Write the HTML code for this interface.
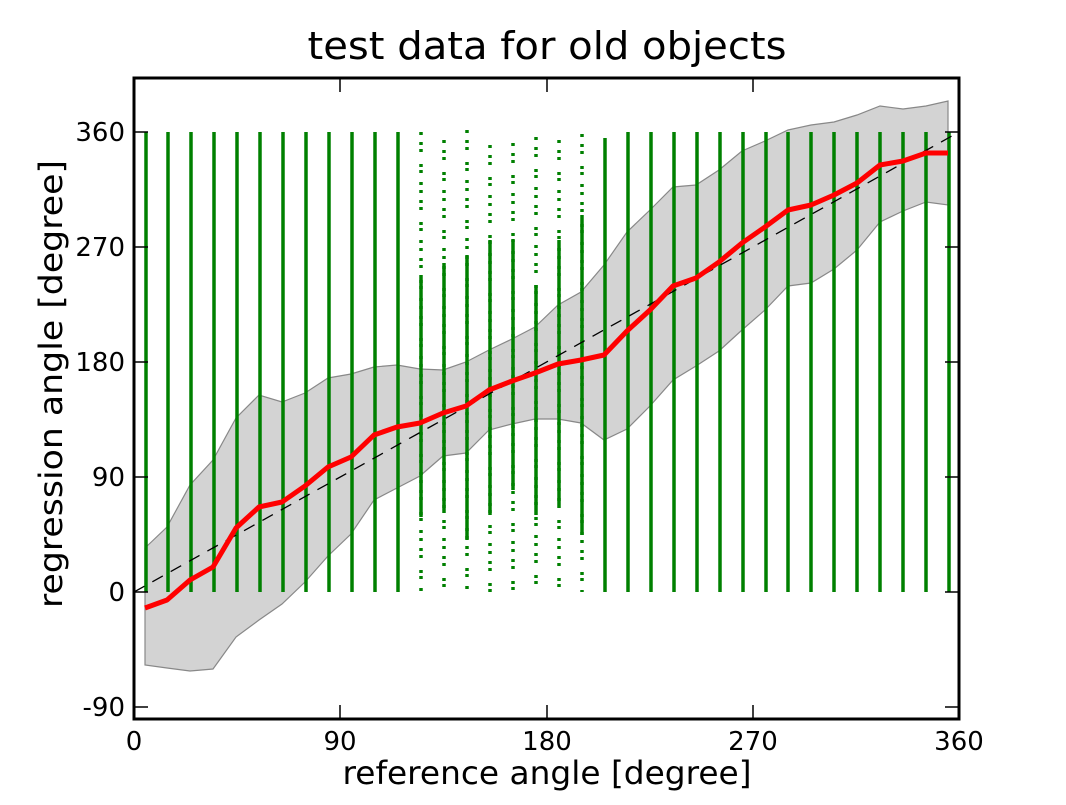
<!DOCTYPE html>
<html><head><meta charset="utf-8"><style>
body{margin:0;background:#fff}
svg text{font-family:"DejaVu Sans","Liberation Sans",sans-serif;fill:#000}
</style></head><body>
<svg width="1066" height="800" viewBox="0 0 1066 800" xmlns="http://www.w3.org/2000/svg">
<rect width="1066" height="800" fill="#fff"/>
<text x="547" y="59" font-size="38" text-anchor="middle" textLength="479" lengthAdjust="spacingAndGlyphs">test data for old objects</text>
<polygon fill="#d3d3d3" stroke="#888" stroke-width="1.2" points="145,548 167,527 190,485 213,460 236,418 259,395 282,402 305,393 328,378 351,374 374,367 397,365 420,369 443,370 466,362 489,350 512,339 535,327 558,305 581,292 604,265 627,232 650,210 673,187 696,185 719,170 742,151 765,141 788,130 811,125 834,122 857,115 880,106 903,109 926,106 948,101 948,205 926,202 903,211 880,222 857,250 834,269 811,283 788,286 765,310 742,330 719,351 696,366 673,380 650,406 627,429 604,440 581,423 558,419 535,419 512,424 489,430 466,453 443,456 420,476 397,488 374,500 351,534 328,556 305,582 282,604 259,620 236,637 213,669 190,671 167,668 145,665"/>
<g stroke="#008000" stroke-width="3.5" fill="none">
<path d="M146,132V592M168,132V592M191,132V592M214,132V592M237,132V592M260,132V592M283,132V592M306,132V592M329,132V592M352,132V592M375,132V592M398,132V592"/>
<path d="M628,132V592M651,132V592M674,132V592M697,132V592M720,132V592M743,132V592M766,132V592M788,132V592M811,132V592M834,132V592M857,132V592M880,132V592M903,132V592M926,132V592M949,132V592"/>
<path d="M605,138V592"/>
<path d="M421,275V517M444,263V513M467,255V540M490,240V515M513,240V490M536,285V515M559,240V505M582,215V535"/>
<path stroke-dasharray="3 7 3 4 3 12 3 3 3 9 3 5" d="M421,132V592M444,140V592M467,130V592M490,145V592M513,143V592M536,137V592M559,140V592M582,134V592"/>
</g>
<line x1="134" y1="592" x2="959" y2="132" stroke="#000" stroke-width="1.3" stroke-dasharray="12 9"/>
<polyline fill="none" stroke="#f00" stroke-width="5" stroke-linejoin="round" points="145,608 167,600 190,580 213,567 236,528 259,507 282,502 305,486 328,467 351,457 374,435 397,427 420,423 443,413 466,406 489,390 512,381 535,373 558,364 581,360 604,355 627,331 650,310 673,286 696,278 719,262 742,243 765,227 788,210 811,205 834,195 857,183 880,165 903,161 926,153 948,153"/>
<rect x="134" y="78" width="825" height="641" fill="none" stroke="#000" stroke-width="3"/>
<g stroke="#000" stroke-width="1.5">
<path d="M134,132h14M134,247h14M134,362h14M134,477h14M134,592h14M134,707h14"/>
<path d="M959,132h-14M959,247h-14M959,362h-14M959,477h-14M959,592h-14M959,707h-14"/>
<path d="M340,719v-14M547,719v-14M753,719v-14M340,78v14M547,78v14M753,78v14"/>
</g>
<g font-size="26" text-anchor="end">
<text x="125" y="141">360</text><text x="125" y="256">270</text><text x="125" y="371">180</text><text x="125" y="486">90</text><text x="125" y="601">0</text><text x="125" y="716">-90</text>
</g>
<g font-size="26" text-anchor="middle">
<text x="134" y="750">0</text><text x="340" y="750">90</text><text x="547" y="750">180</text><text x="753" y="750">270</text><text x="959" y="750">360</text>
</g>
<text x="547" y="784" font-size="32" text-anchor="middle" textLength="409" lengthAdjust="spacingAndGlyphs">reference angle [degree]</text>
<text transform="translate(62,384) rotate(-90)" font-size="32" text-anchor="middle" textLength="448" lengthAdjust="spacingAndGlyphs">regression angle [degree]</text>
</svg>
</body></html>
